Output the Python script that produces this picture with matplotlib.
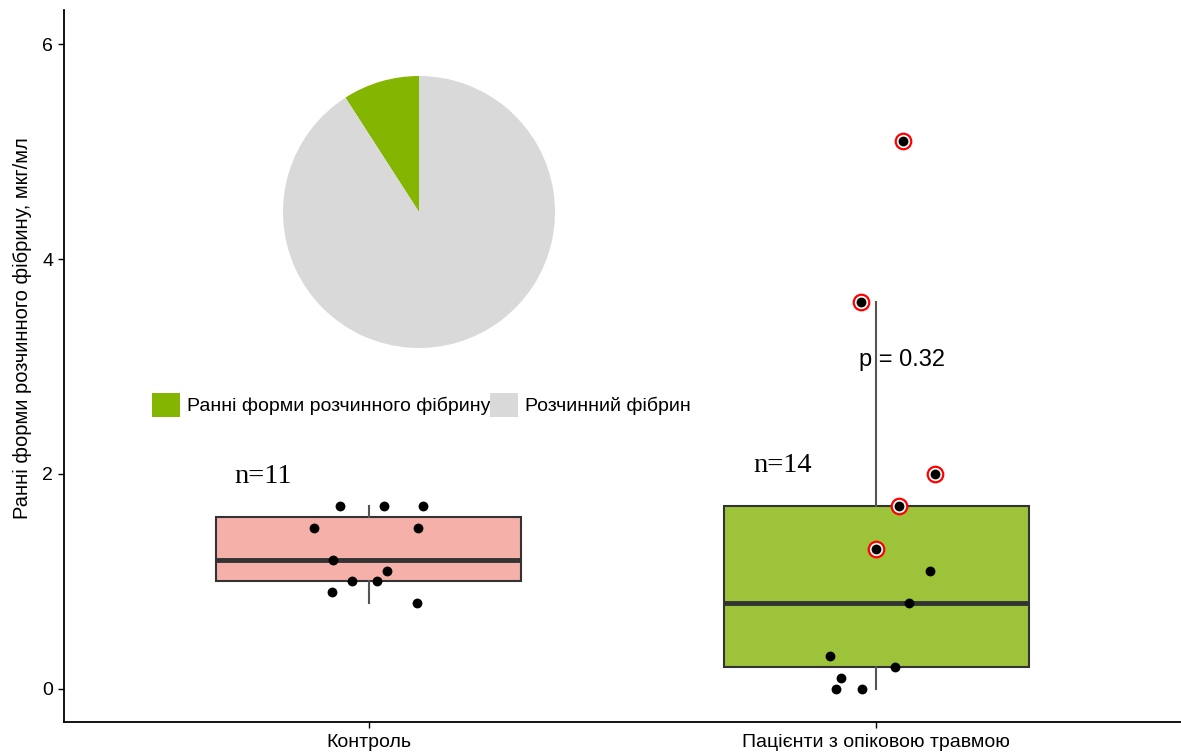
import numpy as np
import matplotlib
matplotlib.use("Agg")
import matplotlib.pyplot as plt
from matplotlib.patches import Patch

plt.rcParams['font.family'] = ['Liberation Sans', 'DejaVu Sans']

# Groups and measured values (мкг/мл)
groups = ["Контроль", "Пацієнти з опіковою травмою"]
control = [1.7, 1.7, 1.7, 1.5, 1.5, 1.2, 1.1, 1.0, 1.0, 0.9, 0.8]
control_dx = [-0.057, 0.030, 0.107, -0.107, 0.097, -0.071, 0.037, -0.032, 0.016, -0.073, 0.095]
burn = [5.1, 3.6, 2.0, 1.7, 1.3, 1.1, 0.8, 0.3, 0.2, 0.1, 0.0, 0.0]
burn_dx = [0.053, -0.030, 0.116, 0.045, 0.000, 0.105, 0.065, -0.091, 0.037, -0.069, -0.079, -0.028]
burn_marked = [True, True, True, True, True, False, False, False, False, False, False, False]

# Box statistics: lower whisker, Q1, median, Q3, upper whisker
whislo = [0.8, 0.0]
q1 = [1.0, 0.2]
med = [1.2, 0.8]
q3 = [1.6, 1.7]
whishi = [1.7, 3.6]
n_labels = ["n=11", "n=14"]
p_label = "p = 0.32"

# Pie shares
pie_labels = ["Ранні форми розчинного фібрину", "Розчинний фібрин"]
pie_values = [9.1, 90.9]
pie_colors = ["#84b500", "#d9d9d9"]
box_colors = ["#f5b0aa", "#9dc33b"]

fig = plt.figure(figsize=(11.81, 7.53), dpi=100)
ax = fig.add_axes([64 / 1181, 31 / 753, 1117 / 1181, 712 / 753])

stats = []
for i in range(2):
    stats.append(dict(whislo=whislo[i], q1=q1[i], med=med[i], q3=q3[i], whishi=whishi[i], fliers=[]))
bp = ax.bxp(stats, positions=[1, 2], widths=0.6, showcaps=False, showfliers=False,
            patch_artist=True,
            boxprops=dict(edgecolor="#333333", linewidth=1.5),
            medianprops=dict(color="#333333", linewidth=3.5),
            whiskerprops=dict(color="#555555", linewidth=1.5))
for patch, c in zip(bp["boxes"], box_colors):
    patch.set_facecolor(c)

# jittered points
ax.scatter(1 + np.array(control_dx), control, s=50, color="black", zorder=4, linewidths=0)
bx = 2 + np.array(burn_dx)
by = np.array(burn)
mk = np.array(burn_marked)
ax.scatter(bx[mk], by[mk], s=125, facecolor="white", edgecolor="#ff0000", linewidths=1.6, zorder=4)
ax.scatter(bx, by, s=50, color="black", zorder=5, linewidths=0)

ax.text(0.793, 1.98, n_labels[0], family="Liberation Serif", fontsize=20.5, ha="center", va="center")
ax.text(1.815, 2.08, n_labels[1], family="Liberation Serif", fontsize=20.5, ha="center", va="center")
ax.text(1.966, 3.06, p_label, fontsize=17, ha="left", va="center")

ax.set_xlim(0.4, 2.6)
ax.set_ylim(-0.31, 6.32)
ax.set_xticks([1, 2])
ax.set_xticklabels(groups)
ax.set_yticks([0, 2, 4, 6])
ax.tick_params(axis="both", length=4.3, width=1, labelsize=14, colors="black", pad=3.5)
ax.tick_params(axis="x", pad=4.5)
ax.set_ylabel("Ранні форми розчинного фібрину, мкг/мл", fontsize=14.5)
ax.yaxis.set_label_coords(-0.029, 0.553)
ax.spines["top"].set_visible(False)
ax.spines["right"].set_visible(False)
ax.spines["left"].set_linewidth(1.3)
ax.spines["bottom"].set_linewidth(1.3)

# pie inset
pax = fig.add_axes([(419 - 136) / 1181, (753 - 212 - 136) / 753, 272 / 1181, 272 / 753])
pax.pie(pie_values, colors=pie_colors, startangle=90, counterclock=True, radius=1.0)
pax.set_aspect("equal")
pax.set_xlim(-1, 1)
pax.set_ylim(-1, 1)

handles = [Patch(facecolor=c, edgecolor="none") for c in pie_colors]
fig.legend(handles, pie_labels, ncol=2, loc="center left", bbox_to_anchor=(138 / 1181, 1 - 405 / 753),
           frameon=False, fontsize=14, handlelength=1.45, handleheight=1.45,
           handletextpad=0.36, columnspacing=0.0, borderpad=0.2)

fig.savefig("out.png", dpi=100)
